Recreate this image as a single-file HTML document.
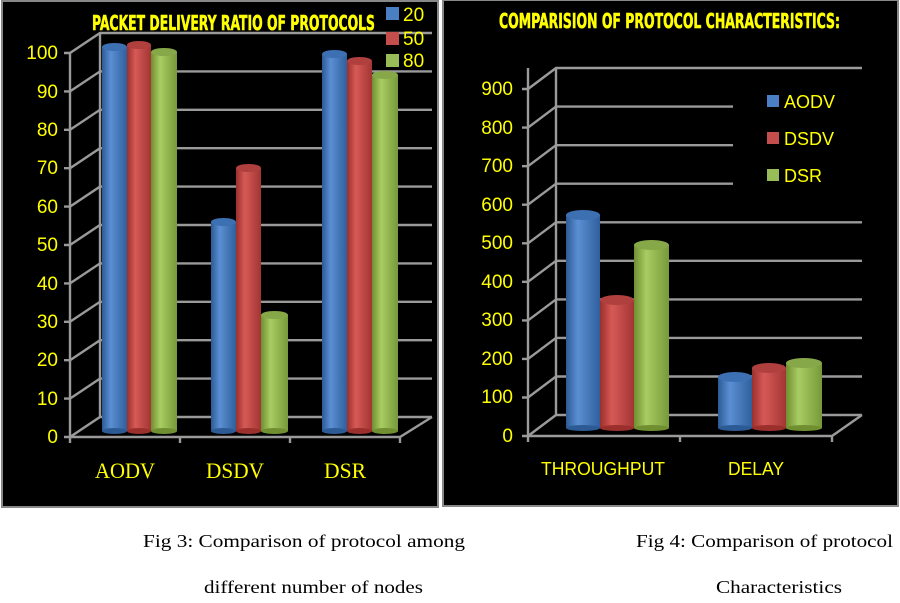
<!DOCTYPE html>
<html><head><meta charset="utf-8"><style>
html,body{margin:0;padding:0;background:#fff;width:900px;height:603px;overflow:hidden}
</style></head><body>
<svg width="900" height="603" viewBox="0 0 900 603" xmlns="http://www.w3.org/2000/svg">
<defs>
<linearGradient id="gb" x1="0" x2="1"><stop offset="0" stop-color="#2c5a94"/><stop offset="0.35" stop-color="#5b8fd4"/><stop offset="1" stop-color="#2f5f9c"/></linearGradient>
<linearGradient id="gr" x1="0" x2="1"><stop offset="0" stop-color="#9a2f2c"/><stop offset="0.35" stop-color="#d65a57"/><stop offset="1" stop-color="#a23533"/></linearGradient>
<linearGradient id="gg" x1="0" x2="1"><stop offset="0" stop-color="#6f8f30"/><stop offset="0.35" stop-color="#a9cc63"/><stop offset="1" stop-color="#77993a"/></linearGradient>
</defs>
<rect x="0" y="0" width="900" height="603" fill="#fff"/>
<rect x="2" y="1" width="436" height="506" fill="#000" stroke="#888" stroke-width="2"/>
<rect x="443" y="0" width="455" height="506" fill="#000" stroke="#888" stroke-width="2"/>

<g stroke="#9a9a9a" stroke-width="2.4" fill="none">
<path d="M70 437 L100 417 L432 417 M70 398.6 L100 378.6 L432 378.6 M70 360.2 L100 340.2 L432 340.2 M70 321.8 L100 301.8 L432 301.8 M70 283.4 L100 263.4 L432 263.4 M70 245 L100 225 L432 225 M70 206.6 L100 186.6 L432 186.6 M70 168.2 L100 148.2 L432 148.2 M70 129.8 L100 109.8 L432 109.8 M70 91.4 L100 71.4 L432 71.4 M70 53 L100 33 L432 33"/>
<path d="M100 33 L100 417 M70 53 L70 443 M64 437 L400 437 L432 417 M64 398.6 L70 398.6 M64 360.2 L70 360.2 M64 321.8 L70 321.8 M64 283.4 L70 283.4 M64 245 L70 245 M64 206.6 L70 206.6 M64 168.2 L70 168.2 M64 129.8 L70 129.8 M64 91.4 L70 91.4 M64 53 L70 53 M180 437 L180 443 M290 437 L290 443 M400 437 L400 443"/>
</g>
<g fill="#ffff00" font-family="Liberation Sans, sans-serif" font-size="19" text-anchor="end">
<text x="58" y="443">0</text><text x="58" y="405">10</text><text x="58" y="366">20</text><text x="58" y="328">30</text><text x="58" y="290">40</text><text x="58" y="251">50</text><text x="58" y="213">60</text><text x="58" y="174">70</text><text x="58" y="136">80</text><text x="58" y="98">90</text><text x="58" y="59">100</text>
</g>

<g>
<rect x="102" y="47" width="25" height="384" fill="url(#gb)"/><ellipse cx="114.5" cy="431" rx="12.5" ry="3" fill="#2c5a94"/><ellipse cx="114.5" cy="47" rx="12.5" ry="4" fill="#3d6fb3"/>
<rect x="127" y="45" width="24" height="386" fill="url(#gr)"/><ellipse cx="139" cy="431" rx="12" ry="3" fill="#9a2f2c"/><ellipse cx="139" cy="45" rx="12" ry="4" fill="#b0403d"/>
<rect x="151" y="52" width="26" height="379" fill="url(#gg)"/><ellipse cx="164" cy="431" rx="13" ry="3" fill="#6f8f30"/><ellipse cx="164" cy="52" rx="13" ry="4" fill="#86a848"/>
<rect x="211" y="222" width="25" height="209" fill="url(#gb)"/><ellipse cx="223.5" cy="431" rx="12.5" ry="3" fill="#2c5a94"/><ellipse cx="223.5" cy="222" rx="12.5" ry="4" fill="#3d6fb3"/>
<rect x="236" y="168" width="25" height="263" fill="url(#gr)"/><ellipse cx="248.5" cy="431" rx="12.5" ry="3" fill="#9a2f2c"/><ellipse cx="248.5" cy="168" rx="12.5" ry="4" fill="#b0403d"/>
<rect x="261" y="315" width="27" height="116" fill="url(#gg)"/><ellipse cx="274.5" cy="431" rx="13.5" ry="3" fill="#6f8f30"/><ellipse cx="274.5" cy="315" rx="13.5" ry="4" fill="#86a848"/>
<rect x="322" y="54" width="25" height="377" fill="url(#gb)"/><ellipse cx="334.5" cy="431" rx="12.5" ry="3" fill="#2c5a94"/><ellipse cx="334.5" cy="54" rx="12.5" ry="4" fill="#3d6fb3"/>
<rect x="347" y="61" width="25" height="370" fill="url(#gr)"/><ellipse cx="359.5" cy="431" rx="12.5" ry="3" fill="#9a2f2c"/><ellipse cx="359.5" cy="61" rx="12.5" ry="4" fill="#b0403d"/>
<rect x="372" y="75" width="26" height="356" fill="url(#gg)"/><ellipse cx="385" cy="431" rx="13" ry="3" fill="#6f8f30"/><ellipse cx="385" cy="75" rx="13" ry="4" fill="#86a848"/>
</g>
<g fill="#ffff00" font-family="Liberation Serif, serif" font-size="22">
<text x="95" y="478" textLength="60" lengthAdjust="spacingAndGlyphs">AODV</text><text x="206" y="478" textLength="58" lengthAdjust="spacingAndGlyphs">DSDV</text><text x="324" y="478" textLength="42" lengthAdjust="spacingAndGlyphs">DSR</text>
</g>
<text x="92" y="30" fill="#ffff00" stroke="#ffff00" stroke-width="0.5" font-family="DejaVu Sans Condensed, Liberation Sans Narrow, sans-serif" font-weight="bold" font-size="20" textLength="283" lengthAdjust="spacingAndGlyphs">PACKET DELIVERY RATIO OF PROTOCOLS</text>
<rect x="386" y="7" width="13" height="13" fill="#4a7fc4"/><rect x="386" y="32" width="13" height="13" fill="#c44e4b"/><rect x="386" y="54" width="13" height="13" fill="#98bd58"/>
<g fill="#ffff00" font-family="Liberation Sans, sans-serif" font-size="19"><text x="403" y="21">20</text><text x="403" y="45">50</text><text x="403" y="67">80</text></g>

<g stroke="#9a9a9a" stroke-width="2.4" fill="none">
<path d="M528 436 L556 415 L862 415 M528 397.5 L556 376.5 L862 376.5 M528 358.9 L556 337.9 L862 337.9 M528 320.4 L556 299.4 L862 299.4 M528 281.8 L556 260.8 L862 260.8 M528 243.3 L556 222.3 L862 222.3 M528 204.7 L556 183.7 L733 183.7 M528 166.2 L556 145.2 L733 145.2 M528 127.6 L556 106.6 L733 106.6 M528 89 L556 68 L862 68"/>
<path d="M556 68 L556 415 M528 68 L528 442 M522 436 L832 436 L862 415 M522 397.5 L528 397.5 M522 358.9 L528 358.9 M522 320.4 L528 320.4 M522 281.8 L528 281.8 M522 243.3 L528 243.3 M522 204.7 L528 204.7 M522 166.2 L528 166.2 M522 127.6 L528 127.6 M522 89 L528 89 M680 436 L680 442 M832 436 L832 442"/>
</g>
<g fill="#ffff00" font-family="Liberation Sans, sans-serif" font-size="19" text-anchor="end">
<text x="513" y="442">0</text><text x="513" y="403">100</text><text x="513" y="365">200</text><text x="513" y="326">300</text><text x="513" y="288">400</text><text x="513" y="249">500</text><text x="513" y="211">600</text><text x="513" y="172">700</text><text x="513" y="134">800</text><text x="513" y="95">900</text>
</g>
<g>
<rect x="566" y="215" width="34" height="213" fill="url(#gb)"/><ellipse cx="583" cy="428" rx="17" ry="3" fill="#2c5a94"/><ellipse cx="583" cy="215" rx="17" ry="5" fill="#3d6fb3"/>
<rect x="600" y="300" width="34" height="128" fill="url(#gr)"/><ellipse cx="617" cy="428" rx="17" ry="3" fill="#9a2f2c"/><ellipse cx="617" cy="300" rx="17" ry="5" fill="#b0403d"/>
<rect x="634" y="245" width="35" height="183" fill="url(#gg)"/><ellipse cx="651.5" cy="428" rx="17.5" ry="3" fill="#6f8f30"/><ellipse cx="651.5" cy="245" rx="17.5" ry="5" fill="#86a848"/>
<rect x="718" y="377" width="34" height="51" fill="url(#gb)"/><ellipse cx="735" cy="428" rx="17" ry="3" fill="#2c5a94"/><ellipse cx="735" cy="377" rx="17" ry="5" fill="#3d6fb3"/>
<rect x="752" y="368" width="34" height="60" fill="url(#gr)"/><ellipse cx="769" cy="428" rx="17" ry="3" fill="#9a2f2c"/><ellipse cx="769" cy="368" rx="17" ry="5" fill="#b0403d"/>
<rect x="786" y="363" width="36" height="65" fill="url(#gg)"/><ellipse cx="804" cy="428" rx="18" ry="3" fill="#6f8f30"/><ellipse cx="804" cy="363" rx="18" ry="5" fill="#86a848"/>
</g>
<g fill="#ffff00" font-family="Liberation Sans, sans-serif" font-size="18">
<text x="541" y="475" textLength="124" lengthAdjust="spacingAndGlyphs">THROUGHPUT</text><text x="728" y="475" textLength="56" lengthAdjust="spacingAndGlyphs">DELAY</text>
</g>
<text x="499" y="28" fill="#ffff00" stroke="#ffff00" stroke-width="0.5" font-family="DejaVu Sans Condensed, Liberation Sans Narrow, sans-serif" font-weight="bold" font-size="20" textLength="341" lengthAdjust="spacingAndGlyphs">COMPARISION OF PROTOCOL CHARACTERISTICS:</text>
<rect x="767" y="95" width="12" height="12" fill="#4a7fc4"/><rect x="767" y="132" width="12" height="12" fill="#c44e4b"/><rect x="767" y="169" width="12" height="12" fill="#98bd58"/>
<g fill="#ffff00" font-family="Liberation Sans, sans-serif" font-size="18"><text x="784" y="108">AODV</text><text x="784" y="145">DSDV</text><text x="784" y="182">DSR</text></g>

<g fill="#000" font-family="Liberation Serif, serif" font-size="18">
<text x="143" y="547" textLength="322" lengthAdjust="spacingAndGlyphs">Fig 3: Comparison of protocol among</text>
<text x="204" y="593" textLength="219" lengthAdjust="spacingAndGlyphs">different number of nodes</text>
<text x="636" y="547" textLength="257" lengthAdjust="spacingAndGlyphs">Fig 4: Comparison of protocol</text>
<text x="716" y="593" textLength="126" lengthAdjust="spacingAndGlyphs">Characteristics</text>
</g>
</svg>
</body></html>
